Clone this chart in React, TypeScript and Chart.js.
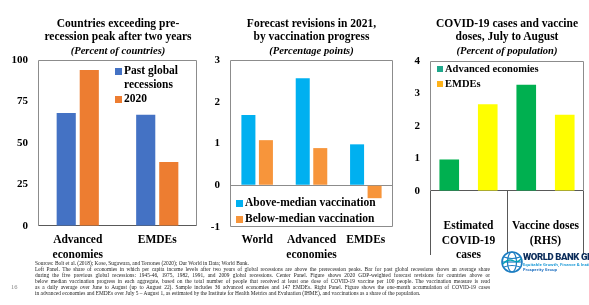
import React, { useEffect, useRef } from 'react';
import { Chart, registerables } from 'chart.js';

Chart.register(...registerables);

const SERIF = "'Liberation Serif', 'Times New Roman', serif";

// ---------- Panel 1 data ----------
const p1Categories = [['Advanced', 'economies'], 'EMDEs'];
const p1PastGlobal = [68, 67];
const p1Year2020 = [94, 38.5];

// ---------- Panel 2 data ----------
const p2Categories = ['World', ['Advanced', 'economies'], 'EMDEs'];
const p2AboveMedian = [1.68, 2.56, 0.98];
const p2BelowMedian = [1.08, 0.89, -0.31];

// ---------- Panel 3 data ----------
const p3Categories = [['Estimated', 'COVID-19', 'cases'], ['Vaccine doses', '(RHS)']];
const p3Advanced = [0.97, 3.27];
const p3EMDEs = [2.67, 2.35];

const footnoteLines = [
  'Sources: Bolt et al. (2018); Kose, Sugawara, and Terrones (2020); Our World in Data; World Bank.',
  'Left Panel. The share of economies in which per capita income levels after two years of global recessions are above the prerecession peaks. Bar for past global recessions shows an average share',
  'during the five previous global recessions: 1945-46, 1975, 1982, 1991, and 2009 global recessions. Center Panel. Figure shows 2020 GDP-weighted forecast revisions for countries above or',
  'below median vaccination progress in each aggregate, based on the total number of people that received at least one dose of COVID-19 vaccine per 100 people. The vaccination measure is read',
  'as a daily average over June to August (up to August 22). Sample includes 36 advanced economies and 147 EMDEs. Right Panel. Figure shows the one-month accumulation of COVID-19 cases',
  'in advanced economies and EMDEs over July 5 \u2013 August 1, as estimated by the Institute for Health Metrics and Evaluation (IHME), and vaccinations as a share of the population.',
];

const H = 265;

type KeyItem = { color: string; lines: string[] };

function makeBoxPlugin(color: string, axisColor: string) {
  return {
    id: 'boxFrame',
    beforeDatasetsDraw(chart: any) {
      const { ctx, chartArea: a } = chart;
      const l = Math.round(a.left) + 0.5;
      const t = Math.round(a.top) + 0.5;
      const r = Math.round(a.right) - 0.5;
      const b = Math.round(a.bottom) - 0.5;
      ctx.save();
      ctx.lineWidth = 1;
      ctx.strokeStyle = color;
      ctx.beginPath();
      ctx.moveTo(l, b);
      ctx.lineTo(l, t);
      ctx.lineTo(r, t);
      ctx.lineTo(r, b);
      ctx.stroke();
      ctx.strokeStyle = axisColor;
      ctx.beginPath();
      ctx.moveTo(l, b);
      ctx.lineTo(r, b);
      ctx.stroke();
      ctx.restore();
    },
  };
}

function makeKeyPlugin(items: KeyItem[], x: number, y: number, lineHeight: number, font: string, box: number) {
  return {
    id: 'keyBox',
    afterDraw(chart: any) {
      const ctx = chart.ctx;
      ctx.save();
      ctx.font = font;
      ctx.textBaseline = 'middle';
      ctx.textAlign = 'left';
      let yy = y;
      items.forEach((it) => {
        ctx.fillStyle = it.color;
        ctx.fillRect(x, Math.round(yy - box / 2), box, box);
        ctx.fillStyle = '#000';
        it.lines.forEach((ln) => {
          ctx.fillText(ln, x + box + 2, yy + 0.5);
          yy += lineHeight;
        });
      });
      ctx.restore();
    },
  };
}

function makeSeparatorPlugin(depth: number, color: string) {
  return {
    id: 'catSeparators',
    afterDraw(chart: any) {
      const { ctx, chartArea: a } = chart;
      const xs = chart.scales.x;
      const n = xs.ticks.length;
      const pts: number[] = [a.left];
      for (let i = 0; i < n - 1; i++) {
        pts.push((xs.getPixelForTick(i) + xs.getPixelForTick(i + 1)) / 2);
      }
      pts.push(a.right);
      ctx.save();
      ctx.strokeStyle = color;
      ctx.lineWidth = 1;
      pts.forEach((p, i) => {
        const px = i === pts.length - 1 ? Math.round(p) - 0.5 : Math.round(p) + 0.5;
        ctx.beginPath();
        ctx.moveTo(px, a.bottom);
        ctx.lineTo(px, a.bottom + depth);
        ctx.stroke();
      });
      ctx.restore();
    },
  };
}

function buildConfig(opts: any) {
  const {
    labels, datasets, yMin, yMax, yStep, yWidth, xHeight, padTop, padRight,
    catPct, barPct, xTick, plugins, zeroLine,
  } = opts;
  return {
    type: 'bar',
    data: { labels, datasets },
    plugins,
    options: {
      responsive: false,
      maintainAspectRatio: false,
      animation: false,
      layout: { padding: { top: padTop, right: padRight, left: 0, bottom: 0 } },
      datasets: { bar: { categoryPercentage: catPct, barPercentage: barPct, borderWidth: 0 } },
      plugins: { legend: { display: false }, tooltip: { enabled: false }, title: { display: false } },
      scales: {
        x: {
          type: 'category',
          offset: true,
          grid: {
            display: true,
            drawOnChartArea: false,
            drawTicks: true,
            tickLength: xTick,
            color: 'rgba(0,0,0,0)',
          },
          border: { display: false },
          ticks: {
            color: '#000',
            padding: 2,
            maxRotation: 0,
            autoSkip: false,
            font: { family: SERIF, size: 11.5, weight: 'bold', lineHeight: 1.25 },
          },
          afterFit(s: any) { s.height = xHeight; },
        },
        y: {
          min: yMin,
          max: yMax,
          border: { display: false },
          grid: {
            drawTicks: false,
            color: (c: any) => (zeroLine && c.tick && c.tick.value === 0 ? '#8c8c8c' : 'rgba(0,0,0,0)'),
          },
          ticks: {
            stepSize: yStep,
            color: '#000',
            padding: 10,
            font: { family: SERIF, size: 11, weight: 'bold' },
          },
          afterFit(s: any) { s.width = yWidth; },
        },
      },
    },
  };
}

function ChartCanvas({ left, width, makeConfig }: { left: number; width: number; makeConfig: () => any }) {
  const ref = useRef<HTMLCanvasElement | null>(null);
  useEffect(() => {
    const chart = new Chart(ref.current as HTMLCanvasElement, makeConfig());
    return () => chart.destroy();
  }, []);
  return (
    <canvas
      ref={ref}
      width={width}
      height={H}
      style={{ position: 'absolute', left, top: 0, width, height: H }}
    />
  );
}

const KEY_FONT = `bold 11.5px ${SERIF}`;

const panel1 = () =>
  buildConfig({
    labels: p1Categories,
    datasets: [
      { label: 'Past global recessions', data: p1PastGlobal, backgroundColor: '#4472C4' },
      { label: '2020', data: p1Year2020, backgroundColor: '#ED7D31' },
    ],
    yMin: 0, yMax: 100, yStep: 25,
    yWidth: 38, xHeight: H - 226, padTop: 60, padRight: 3,
    catPct: 0.58, barPct: 0.83, xTick: 5, zeroLine: false,
    plugins: [
      makeBoxPlugin('#8c8c8c', '#595959'),
      makeKeyPlugin(
        [
          { color: '#4472C4', lines: ['Past global', 'recessions'] },
          { color: '#ED7D31', lines: ['2020'] },
        ],
        115, 71, 14, KEY_FONT, 7,
      ),
    ],
  });

const panel2 = () =>
  buildConfig({
    labels: p2Categories,
    datasets: [
      { label: 'Above-median vaccination', data: p2AboveMedian, backgroundColor: '#00B0F0' },
      { label: 'Below-median vaccination', data: p2BelowMedian, backgroundColor: '#F7953B' },
    ],
    yMin: -1, yMax: 3, yStep: 1,
    yWidth: 30, xHeight: H - 227, padTop: 60, padRight: 2,
    catPct: 0.645, barPct: 0.8, xTick: 4, zeroLine: true,
    plugins: [
      makeBoxPlugin('#8c8c8c', '#8c8c8c'),
      makeKeyPlugin(
        [
          { color: '#00B0F0', lines: ['Above-median vaccination'] },
          { color: '#F7953B', lines: ['Below-median vaccination'] },
        ],
        36, 203, 16, KEY_FONT, 7,
      ),
    ],
  });

const panel3 = () =>
  buildConfig({
    labels: p3Categories,
    datasets: [
      { label: 'Advanced economies', data: p3Advanced, backgroundColor: '#00B050' },
      { label: 'EMDEs', data: p3EMDEs, backgroundColor: '#FFFF00' },
    ],
    yMin: 0, yMax: 4, yStep: 1,
    yWidth: 35, xHeight: H - 191, padTop: 61, padRight: 5,
    catPct: 1.0, barPct: 0.51, xTick: 26, zeroLine: false,
    plugins: [
      makeBoxPlugin('#8c8c8c', '#595959'),
      makeSeparatorPlugin(64, '#595959'),
      makeKeyPlugin(
        [
          { color: '#1FA88C', lines: ['Advanced economies'] },
          { color: '#FFB31A', lines: ['EMDEs'] },
        ],
        42, 69, 15, `bold 10.5px ${SERIF}`, 6,
      ),
    ],
  });

function Title({ center, lines, sub }: { center: number; lines: string[]; sub: string }) {
  return (
    <div
      style={{
        position: 'absolute',
        left: center - 110,
        width: 220,
        top: 17,
        textAlign: 'center',
        fontFamily: SERIF,
        fontWeight: 'bold',
        fontSize: 11.5,
        lineHeight: '13.3px',
        color: '#000',
        whiteSpace: 'nowrap',
      }}
    >
      {lines.map((l, i) => (
        <div key={i}>{l}</div>
      ))}
      <div style={{ fontStyle: 'italic', fontSize: 10.5 }}>{sub}</div>
    </div>
  );
}

function Logo() {
  return (
    <div style={{ position: 'absolute', left: 500, top: 250, width: 100, height: 26 }}>
      <svg width={24} height={24} viewBox="0 0 24 24" style={{ position: 'absolute', left: 0, top: 0 }}>
        <circle cx={12} cy={12} r={10} fill="#fff" stroke="#1B7CC1" strokeWidth={1.6} />
        <ellipse cx={12} cy={12} rx={4.5} ry={10} fill="none" stroke="#1B7CC1" strokeWidth={1.2} />
        <line x1={2} y1={12} x2={22} y2={12} stroke="#1B7CC1" strokeWidth={1.2} />
        <path d="M4 7 Q12 10 20 7 M4 17 Q12 14 20 17" fill="none" stroke="#1B7CC1" strokeWidth={1.1} />
        <path d="M3 14 Q8 8 14 11 Q18 13 21 9" fill="none" stroke="#00A5B5" strokeWidth={1.3} />
      </svg>
      <div
        style={{
          position: 'absolute', left: 23, top: 1, whiteSpace: 'nowrap',
          fontFamily: "Roboto, 'DejaVu Sans', sans-serif", fontWeight: 900,
          fontSize: 9.5, letterSpacing: -0.4, color: '#0B2C5A', lineHeight: '12px',
        }}
      >
        WORLD BANK GROUP
      </div>
      <div
        style={{
          position: 'absolute', left: 23, top: 12, whiteSpace: 'nowrap',
          fontFamily: "'Open Sans', sans-serif", fontWeight: 700,
          fontSize: 4, color: '#1E9BD7', lineHeight: '5px',
        }}
      >
        Equitable Growth, Finance &amp; Institutions
      </div>
      <div
        style={{
          position: 'absolute', left: 23, top: 17, whiteSpace: 'nowrap',
          fontFamily: "'Open Sans', sans-serif", fontWeight: 700,
          fontSize: 4, color: '#1E6FC0', lineHeight: '5px',
        }}
      >
        Prosperity Group
      </div>
    </div>
  );
}

export default function App() {
  return (
    <div
      style={{
        position: 'fixed', left: 0, top: 0, width: 589, height: 305,
        background: '#fff', overflow: 'hidden',
      }}
    >
      <ChartCanvas left={0} width={200} makeConfig={panel1} />
      <ChartCanvas left={200} width={195} makeConfig={panel2} />
      <ChartCanvas left={395} width={194} makeConfig={panel3} />
      <Title center={118} lines={['Countries exceeding pre-', 'recession peak after two years']} sub="(Percent of countries)" />
      <Title center={311.5} lines={['Forecast revisions in 2021,', 'by vaccination progress']} sub="(Percentage points)" />
      <Title center={507} lines={['COVID-19 cases and vaccine', 'doses, July to August']} sub="(Percent of population)" />
      <div
        style={{
          position: 'absolute', left: 35, top: 261, width: 455,
          fontFamily: SERIF, fontSize: 5.4, lineHeight: '5.9px', color: '#222',
        }}
      >
        {footnoteLines.map((l, i) => (
          <div
            key={i}
            style={{
              whiteSpace: 'nowrap',
              textAlign: 'justify',
              textAlignLast: i === 0 || i === footnoteLines.length - 1 ? 'left' : 'justify',
            } as any}
          >
            {l}
          </div>
        ))}
      </div>
      <div
        style={{
          position: 'absolute', left: 11, top: 283, fontFamily: SERIF,
          fontSize: 6.5, color: '#888',
        }}
      >
        16
      </div>
      <Logo />
    </div>
  );
}
